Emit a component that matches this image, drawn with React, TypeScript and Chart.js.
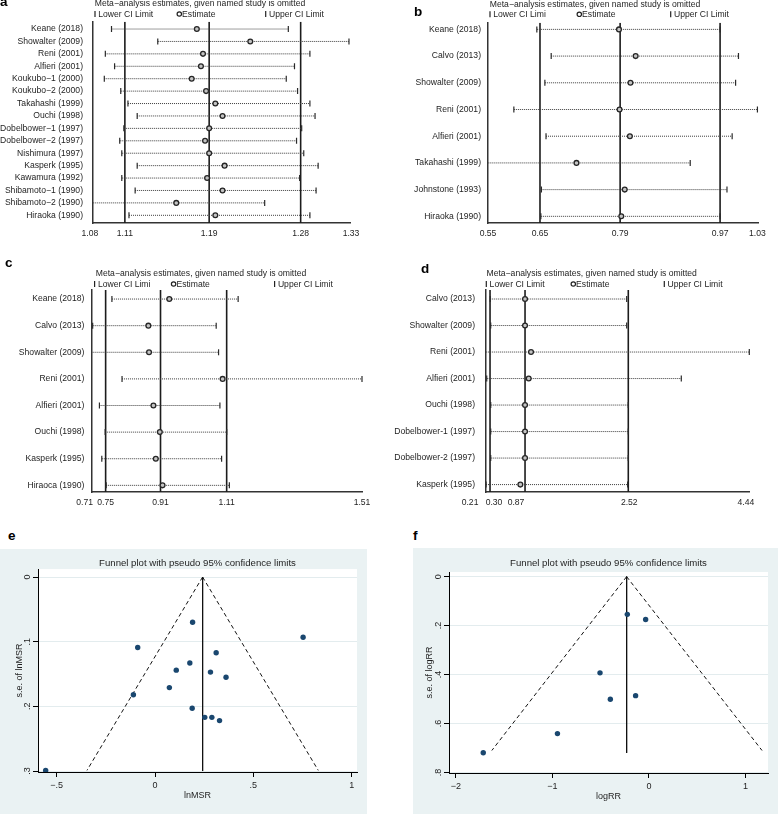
import React, { useEffect, useRef } from "react";
import { Chart, registerables } from "chart.js";

Chart.register(...registerables);

const FONT = "'Liberation Sans', Arial, Helvetica, sans-serif";
Chart.defaults.font.family = FONT;
Chart.defaults.color = "#1e1e1e";

// ---------------- Panel a ----------------
const studiesA = [
  "Keane (2018)", "Showalter (2009)", "Reni (2001)", "Alfieri (2001)", "Koukubo−1 (2000)",
  "Koukubo−2 (2000)", "Takahashi (1999)", "Ouchi (1998)", "Dobelbower−1 (1997)", "Dobelbower−2 (1997)",
  "Nishimura (1997)", "Kasperk (1995)", "Kawamura (1992)", "Shibamoto−1 (1990)", "Shibamoto−2 (1990)",
  "Hiraoka (1990)",
];
const lowerA = [1.098, 1.143, 1.092, 1.101, 1.091, 1.107, 1.114, 1.123, 1.110, 1.106, 1.108, 1.123, 1.108, 1.121, 1.072, 1.115];
const estimateA = [1.181, 1.233, 1.187, 1.185, 1.176, 1.190, 1.199, 1.206, 1.193, 1.189, 1.193, 1.208, 1.191, 1.206, 1.161, 1.199];
const upperA = [1.270, 1.329, 1.291, 1.276, 1.268, 1.279, 1.291, 1.296, 1.283, 1.278, 1.285, 1.299, 1.281, 1.297, 1.247, 1.291];
const overallA = [1.111, 1.193, 1.282];
const xTicksA = [1.077, 1.111, 1.193, 1.282, 1.331];
const xTickLabelsA = ["1.08", "1.11", "1.19", "1.28", "1.33"];
const xRangeA = [1.08, 1.33];
const keyTextsA = ["Lower CI Limit", "Estimate", "Upper CI Limit"];

// ---------------- Panel b ----------------
const studiesB = [
  "Keane (2018)", "Calvo (2013)", "Showalter (2009)", "Reni (2001)", "Alfieri (2001)",
  "Takahashi (1999)", "Johnstone (1993)", "Hiraoka (1990)",
];
const lowerB = [0.644, 0.669, 0.658, 0.604, 0.660, 0.548, 0.652, 0.651];
const estimateB = [0.787, 0.816, 0.807, 0.788, 0.806, 0.713, 0.797, 0.791];
const upperB = [0.963, 0.995, 0.990, 1.028, 0.984, 0.911, 0.975, 0.963];
const overallB = [0.6495, 0.789, 0.963];
const xTicksB = [0.559, 0.6495, 0.789, 0.963, 1.028];
const xTickLabelsB = ["0.55", "0.65", "0.79", "0.97", "1.03"];
const xRangeB = [0.559, 1.029];
const keyTextsB = ["Lower CI Limi", "Estimate", "Upper CI Limit"];

// ---------------- Panel c ----------------
const studiesC = [
  "Keane (2018)", "Calvo (2013)", "Showalter (2009)", "Reni (2001)", "Alfieri (2001)",
  "Ouchi (1998)", "Kasperk (1995)", "Hiraoca (1990)",
];
const lowerC = [0.769, 0.712, 0.700, 0.799, 0.732, 0.749, 0.739, 0.752];
const estimateC = [0.939, 0.877, 0.879, 1.097, 0.892, 0.911, 0.899, 0.919];
const upperC = [1.143, 1.078, 1.085, 1.510, 1.089, 1.109, 1.094, 1.117];
const overallC = [0.7504, 0.913, 1.109];
const xTicksC = [0.688, 0.7504, 0.913, 1.109, 1.51];
const xTickLabelsC = ["0.71", "0.75", "0.91", "1.11", "1.51"];
const xRangeC = [0.71, 1.51];
const keyTextsC = ["Lower CI Limi", "Estimate", "Upper CI Limit"];

// ---------------- Panel d ----------------
const studiesD = [
  "Calvo (2013)", "Showalter (2009)", "Reni (2001)", "Alfieri (2001)", "Ouchi (1998)",
  "Dobelbower-1 (1997)", "Dobelbower-2 (1997)", "Kasperk (1995)",
];
const lowerD = [0.303, 0.311, 0.200, 0.247, 0.311, 0.311, 0.311, 0.236];
const estimateD = [0.862, 0.862, 0.958, 0.921, 0.862, 0.862, 0.862, 0.787];
const upperD = [2.494, 2.494, 4.463, 3.371, 2.520, 2.520, 2.520, 2.510];
const overallD = [0.300, 0.862, 2.520];
const xTicksD = [-0.021, 0.364, 0.717, 2.536, 4.409];
const xTickLabelsD = ["0.21", "0.30", "0.87", "2.52", "4.44"];
const xRangeD = [0.2304, 4.463];
const keyTextsD = ["Lower CI Limit", "Estimate", "Upper CI Limit"];

// ---------------- Panel e (funnel, lnMSR) ----------------
const lnMsrE = [0.191, 0.753, -0.088, 0.311, 0.177, 0.108, 0.282, 0.361, 0.073, -0.110, 0.189, 0.253, 0.289, 0.328, -0.556];
const seE = [0.070, 0.093, 0.109, 0.117, 0.133, 0.144, 0.147, 0.155, 0.171, 0.182, 0.203, 0.217, 0.217, 0.222, 0.299];
const pseudoLowerE = [[0.242, 0], [-0.346, 0.299]];
const pseudoUpperE = [[0.242, 0], [0.830, 0.299]];
const pooledLineE = [[0.242, 0], [0.242, 0.300]];
const xTicksE = [-0.5, 0, 0.5, 1];
const xTickLabelsE = ["−.5", "0", ".5", "1"];
const yTicksE = [0, 0.1, 0.2, 0.3];
const yTickLabelsE = ["0", ".1", ".2", ".3"];
const xRangeE = [-0.595, 1.027];
const yRangeE = [-0.0123, 0.3015];

// ---------------- Panel f (funnel, logRR) ----------------
const logRrF = [-0.224, -0.034, -0.507, -0.138, -0.400, -0.948, -1.717];
const seF = [0.154, 0.175, 0.393, 0.486, 0.501, 0.641, 0.719];
const pseudoLowerF = [[-0.231, 0], [-1.628, 0.71]];
const pseudoUpperF = [[-0.231, 0], [1.172, 0.71]];
const pooledLineF = [[-0.231, 0], [-0.231, 0.72]];
const xTicksF = [-2, -1, 0, 1];
const xTickLabelsF = ["−2", "−1", "0", "1"];
const yTicksF = [0, 0.2, 0.4, 0.6, 0.8];
const yTickLabelsF = ["0", ".2", ".4", ".6", ".8"];
const xRangeF = [-2.072, 1.234];
const yRangeF = [-0.019, 0.802];

const SENS_TITLE = "Meta−analysis estimates, given named study is omitted";
const FUNNEL_TITLE = "Funnel plot with pseudo 95% confidence limits";
const TEXT = "#1e1e1e";
const NAVY = "#1a476f";

// ---------- plugins ----------
// Stata-style header: title line plus a three-column key row above the plot area
const headerPlugin = {
  id: "stataHeader",
  afterDraw(chart: any, _args: any, opts: any) {
    const { ctx, chartArea } = chart;
    ctx.save();
    ctx.font = `8.6px ${FONT}`;
    ctx.textBaseline = "middle";
    ctx.fillStyle = TEXT;
    ctx.textAlign = "center";
    ctx.fillText(opts.title, chartArea.left + opts.titleDx, chartArea.top - opts.titleDy);
    ctx.textAlign = "left";
    const y = chartArea.top - opts.keyDy;
    opts.items.forEach((it: any) => {
      const x = chartArea.left + it.x;
      ctx.strokeStyle = "#222";
      ctx.lineWidth = 1.2;
      if (it.symbol === "bar") {
        ctx.beginPath();
        ctx.moveTo(x, y - 3);
        ctx.lineTo(x, y + 3);
        ctx.stroke();
        ctx.fillStyle = TEXT;
        ctx.fillText(it.text, x + 3.3, y + 0.5);
      } else {
        ctx.beginPath();
        ctx.arc(x, y, 2.2, 0, Math.PI * 2);
        ctx.fillStyle = "#fff";
        ctx.fill();
        ctx.stroke();
        ctx.fillStyle = TEXT;
        ctx.fillText(it.text, x + 2.8, y + 0.5);
      }
    });
    ctx.restore();
  },
};

const bgPlugin = {
  id: "stataBg",
  beforeDraw(chart: any, _args: any, opts: any) {
    const { ctx, chartArea: ca, width, height } = chart;
    ctx.save();
    ctx.fillStyle = opts.outer;
    ctx.fillRect(0, 0, width, height);
    ctx.fillStyle = opts.inner;
    ctx.fillRect(ca.left, ca.top, ca.right - ca.left, ca.bottom - ca.top);
    ctx.restore();
  },
};

// ---------- sensitivity panels ----------
type SensPanel = {
  studies: string[]; lower: number[]; est: number[]; upper: number[]; overall: number[];
  xTicks: number[]; xLabels: string[]; xRange: number[]; keyTexts: string[];
  yRange: number[];
  box: { left: number; top: number; width: number; height: number };
  padT: number; padR: number; yAxisW: number;
  titleDx: number; titleDy: number; keyDy: number; keyX: number[]; yTickPad: number;
};

const panels: SensPanel[] = [
  {
    studies: studiesA, lower: lowerA, est: estimateA, upper: upperA, overall: overallA,
    xTicks: xTicksA, xLabels: xTickLabelsA, xRange: xRangeA, keyTexts: keyTextsA,
    yRange: [-0.59, 15.62],
    box: { left: 0, top: -2, width: 390, height: 245 },
    padT: 23.7, padR: 40, yAxisW: 93,
    titleDx: 107, titleDy: 17.7, keyDy: 7.7, keyX: [2, 86.3, 172.7], yTickPad: 10,
  },
  {
    studies: studiesB, lower: lowerB, est: estimateB, upper: upperB, overall: overallB,
    xTicks: xTicksB, xLabels: xTickLabelsB, xRange: xRangeB, keyTexts: keyTextsB,
    yRange: [-0.25, 7.25],
    box: { left: 390, top: -1, width: 388, height: 244 },
    padT: 23.7, padR: 20, yAxisW: 98,
    titleDx: 107, titleDy: 18, keyDy: 8.4, keyX: [2, 91.3, 182.7], yTickPad: 7,
  },
  {
    studies: studiesC, lower: lowerC, est: estimateC, upper: upperC, overall: overallC,
    xTicks: xTicksC, xLabels: xTickLabelsC, xRange: xRangeC, keyTexts: keyTextsC,
    yRange: [-0.34, 7.25],
    box: { left: 0, top: 268, width: 390, height: 244 },
    padT: 22, padR: 28, yAxisW: 92,
    titleDx: 109, titleDy: 16.7, keyDy: 6, keyX: [2.6, 81.6, 182.6], yTickPad: 7.7,
  },
  {
    studies: studiesD, lower: lowerD, est: estimateD, upper: upperD, overall: overallD,
    xTicks: xTicksD, xLabels: xTickLabelsD, xRange: xRangeD, keyTexts: keyTextsD,
    yRange: [-0.34, 7.28],
    box: { left: 390, top: 268, width: 388, height: 244 },
    padT: 22, padR: 28.7, yAxisW: 95.7,
    titleDx: 106, titleDy: 16, keyDy: 6, keyX: [0.6, 87.6, 178.6], yTickPad: 10.7,
  },
];

function sensConfig(p: SensPanel): any {
  const clip = { left: 0, right: 3, top: 6, bottom: 6 };
  const estSet = {
    type: "scatter",
    data: p.est.map((v, i) => ({ x: v, y: i })),
    pointStyle: "circle",
    pointRadius: 2.4,
    pointBorderWidth: 1.3,
    pointBorderColor: "#262626",
    pointBackgroundColor: "#c4c4c4",
    clip,
  };
  const rowSets = p.studies.map((_, i) => ({
    type: "line",
    data: [{ x: p.lower[i], y: i }, { x: p.upper[i], y: i }],
    borderColor: "#3c3c3c",
    borderWidth: 1,
    borderDash: [1, 1],
    pointStyle: "line",
    pointRotation: 90,
    pointRadius: 3,
    pointBorderColor: "#2a2a2a",
    pointBackgroundColor: "#2a2a2a",
    pointBorderWidth: 1.2,
    clip,
  }));
  const refSets = p.overall.map((v) => ({
    type: "line",
    data: [{ x: v, y: p.yRange[0] }, { x: v, y: p.yRange[1] }],
    borderColor: "#1c1c1c",
    borderWidth: 1.6,
    pointRadius: 0,
  }));
  const symbols = ["bar", "circle", "bar"];
  return {
    type: "scatter",
    data: { datasets: [estSet, ...rowSets, ...refSets] },
    plugins: [headerPlugin],
    options: {
      animation: false,
      responsive: false,
      events: [],
      layout: { padding: { left: 0, right: p.padR, top: p.padT, bottom: 0 } },
      plugins: {
        legend: { display: false },
        tooltip: { enabled: false },
        title: { display: false },
        stataHeader: {
          title: SENS_TITLE,
          titleDx: p.titleDx,
          titleDy: p.titleDy,
          keyDy: p.keyDy,
          items: p.keyTexts.map((t, i) => ({ text: t, x: p.keyX[i], symbol: symbols[i] })),
        },
      },
      scales: {
        x: {
          type: "linear",
          min: p.xRange[0],
          max: p.xRange[1],
          grid: { display: false, drawTicks: false },
          border: { display: true, color: "#333", width: 1.5 },
          ticks: {
            autoSkip: false,
            maxRotation: 0,
            padding: 5.5,
            color: TEXT,
            font: { size: 8.6 },
            callback: (_v: any, i: number) => p.xLabels[i],
          },
          afterBuildTicks: (s: any) => {
            s.ticks = p.xTicks.map((v) => ({ value: v }));
          },
          afterFit: (s: any) => {
            s.height = 20;
          },
        },
        y: {
          type: "linear",
          reverse: true,
          min: p.yRange[0],
          max: p.yRange[1],
          grid: { display: false, drawTicks: false },
          border: { display: true, color: "#333", width: 1.5 },
          ticks: {
            autoSkip: false,
            padding: p.yTickPad,
            color: TEXT,
            font: { size: 8.6 },
            callback: (v: any) => p.studies[v],
          },
          afterBuildTicks: (s: any) => {
            s.ticks = p.studies.map((_, i) => ({ value: i }));
          },
          afterFit: (s: any) => {
            s.width = p.yAxisW;
          },
        },
      },
    },
  };
}

// ---------- funnel panels ----------
type FunnelPanel = {
  xs: number[]; ys: number[]; lo: number[][]; hi: number[][]; pooled: number[][];
  xTicks: number[]; xLabels: string[]; yTicks: number[]; yLabels: string[];
  xRange: number[]; yRange: number[]; xTitle: string; yTitle: string;
  box: { left: number; top: number; width: number; height: number };
  padR: number; padB: number; yAxisW: number; xAxisH: number;
  titleTop: number; titleBottom: number; yTitlePad: number;
};

const funnels: FunnelPanel[] = [
  {
    xs: lnMsrE, ys: seE, lo: pseudoLowerE, hi: pseudoUpperE, pooled: pooledLineE,
    xTicks: xTicksE, xLabels: xTickLabelsE, yTicks: yTicksE, yLabels: yTickLabelsE,
    xRange: xRangeE, yRange: yRangeE, xTitle: "lnMSR", yTitle: "s.e. of lnMSR",
    box: { left: 0, top: 549, width: 367, height: 265 },
    padR: 10, padB: 12.6, yAxisW: 38, xAxisH: 29.4, titleTop: 8.57, titleBottom: 0, yTitlePad: 14.6,
  },
  {
    xs: logRrF, ys: seF, lo: pseudoLowerF, hi: pseudoUpperF, pooled: pooledLineF,
    xTicks: xTicksF, xLabels: xTickLabelsF, yTicks: yTicksF, yLabels: yTickLabelsF,
    xRange: xRangeF, yRange: yRangeF, xTitle: "logRR", yTitle: "s.e. of logRR",
    box: { left: 413, top: 548, width: 365, height: 266 },
    padR: 10, padB: 11.9, yAxisW: 36, xAxisH: 29.1, titleTop: 9.54, titleBottom: 2.94, yTitlePad: 11.6,
  },
];

function funnelConfig(p: FunnelPanel): any {
  const toPts = (arr: number[][]) => arr.map(([x, y]) => ({ x, y }));
  return {
    type: "scatter",
    data: {
      datasets: [
        {
          type: "scatter",
          data: p.xs.map((x, i) => ({ x, y: p.ys[i] })),
          pointRadius: 2.7,
          pointBorderWidth: 0,
          pointBackgroundColor: NAVY,
          pointBorderColor: NAVY,
        },
        { type: "line", data: toPts(p.lo), borderColor: "#111", borderWidth: 1, borderDash: [4, 3], pointRadius: 0 },
        { type: "line", data: toPts(p.hi), borderColor: "#111", borderWidth: 1, borderDash: [4, 3], pointRadius: 0 },
        { type: "line", data: toPts(p.pooled), borderColor: "#111", borderWidth: 1, pointRadius: 0 },
      ],
    },
    plugins: [bgPlugin],
    options: {
      animation: false,
      responsive: false,
      events: [],
      layout: { padding: { left: 0, right: p.padR, top: 0, bottom: p.padB } },
      plugins: {
        legend: { display: false },
        tooltip: { enabled: false },
        stataBg: { outer: "#eaf2f3", inner: "#ffffff" },
        title: {
          display: true,
          fullSize: false,
          text: FUNNEL_TITLE,
          color: TEXT,
          font: { size: 9.6, weight: "normal", lineHeight: 1.2 },
          padding: { top: p.titleTop, bottom: p.titleBottom },
        },
      },
      scales: {
        x: {
          type: "linear",
          min: p.xRange[0],
          max: p.xRange[1],
          grid: { drawOnChartArea: false, tickLength: 5, color: "#000", tickColor: "#000", lineWidth: 1 },
          border: { display: true, color: "#000", width: 1 },
          ticks: {
            autoSkip: false,
            maxRotation: 0,
            padding: 3.5,
            color: TEXT,
            font: { size: 9 },
            callback: (_v: any, i: number) => p.xLabels[i],
          },
          title: { display: true, text: p.xTitle, color: TEXT, font: { size: 9 }, padding: 0 },
          afterBuildTicks: (s: any) => {
            s.ticks = p.xTicks.map((v) => ({ value: v }));
          },
          afterFit: (s: any) => {
            s.height = p.xAxisH;
          },
        },
        y: {
          type: "linear",
          reverse: true,
          min: p.yRange[0],
          max: p.yRange[1],
          grid: { color: "#e3ecee", tickColor: "#000", tickLength: 5, lineWidth: 1 },
          border: { display: true, color: "#000", width: 1 },
          ticks: {
            autoSkip: false,
            minRotation: 90,
            maxRotation: 90,
            crossAlign: "center",
            padding: 1.4,
            color: TEXT,
            font: { size: 9 },
            callback: (_v: any, i: number) => p.yLabels[i],
          },
          title: { display: true, text: p.yTitle, color: TEXT, font: { size: 9 }, padding: { top: p.yTitlePad, bottom: 0 } },
          afterBuildTicks: (s: any) => {
            s.ticks = p.yTicks.map((v) => ({ value: v }));
          },
          afterFit: (s: any) => {
            s.width = p.yAxisW;
          },
        },
      },
    },
  };
}

function ChartBox(props: { make: () => any; left: number; top: number; width: number; height: number }) {
  const ref = useRef<HTMLCanvasElement>(null);
  useEffect(() => {
    const chart = new Chart(ref.current as HTMLCanvasElement, props.make());
    return () => chart.destroy();
  }, []);
  return (
    <canvas
      ref={ref}
      width={props.width}
      height={props.height}
      style={{ position: "absolute", left: props.left, top: props.top, width: props.width, height: props.height }}
    />
  );
}

const letters = [
  { t: "a", left: 0, top: -5 },
  { t: "b", left: 414, top: 5 },
  { t: "c", left: 5, top: 256 },
  { t: "d", left: 421, top: 262 },
  { t: "e", left: 8, top: 529 },
  { t: "f", left: 413, top: 529 },
];

export default function App() {
  return (
    <div style={{ position: "absolute", left: 0, top: 0, width: 778, height: 814, overflow: "hidden", background: "#fff" }}>
      {panels.map((p, i) => (
        <ChartBox key={"s" + i} make={() => sensConfig(p)} {...p.box} />
      ))}
      {funnels.map((p, i) => (
        <ChartBox key={"f" + i} make={() => funnelConfig(p)} {...p.box} />
      ))}
      {letters.map((l) => (
        <div
          key={l.t}
          style={{
            position: "absolute",
            left: l.left,
            top: l.top,
            fontFamily: FONT,
            fontWeight: "bold",
            fontSize: 13.5,
            lineHeight: "13.5px",
            color: "#000",
          }}
        >
          {l.t}
        </div>
      ))}
    </div>
  );
}
